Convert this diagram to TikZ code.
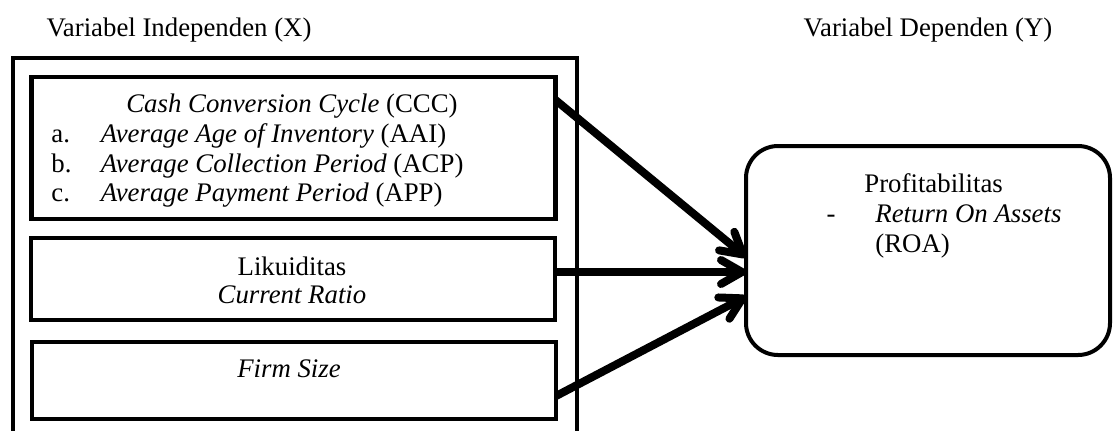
\documentclass[tikz,border=0pt]{standalone}
\usepackage{fontspec}
\setmainfont{Liberation Serif}
\usetikzlibrary{arrows.meta,positioning}

% label column for the lettered ratio lines
\newcommand{\ratioitem}[2]{\makebox[24.75pt][l]{#1}#2}

\begin{document}
\begin{tikzpicture}[
    x=0.5pt, y=-0.5pt,
    font=\fontsize{13.4}{14.5}\selectfont,
    outerframe/.style={draw, line width=2.2pt, inner sep=0pt, outer sep=0pt},
    varbox/.style={outerframe, minimum width=262pt},
    depbox/.style={draw, line width=2pt, rounded corners=16pt, inner sep=0pt, outer sep=0pt,
        minimum width=182pt, minimum height=104.5pt},
    txt/.style={inner sep=0pt, anchor=base},
    arr/.style={-{Straight Barb[length=10.5pt, width=12pt, round]}, line width=4pt,
        preaction={draw=black!30, transform canvas={shift={(0.8pt,-1.2pt)}}}},
]
    \useasboundingbox (0,0) rectangle (1113,430);
    \clip (0,0) rectangle (1113,430);

    % Headings
    \node[txt] (indephead) at (179,36) {Variabel Independen (X)};
    \node[txt] (dephead)   at (928,36) {Variabel Dependen (Y)};

    % Left frame holding the independent variables (runs off the bottom)
    \node[outerframe, minimum width=282pt, minimum height=194pt] (indep) at (295,252) {};

    % Box 1: CCC and its parts
    \node[varbox, minimum height=71pt] (cccbox) at (293.5,148) {};
    \node[txt] (ccc) at (292,112) {\textit{Cash Conversion Cycle} (CCC)};
    \node[txt, anchor=base west] (aai) at (51,142) {\ratioitem{a.}{\textit{Average Age of Inventory} (AAI)}};
    \node[txt, anchor=base west] (acp) at (51,172) {\ratioitem{b.}{\textit{Average Collection Period} (ACP)}};
    \node[txt, anchor=base west] (app) at (51,201) {\ratioitem{c.}{\textit{Average Payment Period} (APP)}};

    % Box 2: liquidity
    \node[varbox, minimum height=41pt] (likbox) at (293,279) {};
    \node[txt] (lik) at (292,275) {Likuiditas};
    \node[txt] (cr)  at (292,303) {\textit{Current Ratio}};

    % Box 3: firm size
    \node[varbox, minimum height=38.5pt] (firmbox) at (294,380.5) {};
    \node[txt] (firm) at (289,377) {\textit{Firm Size}};

    % Dependent variable
    \node[depbox] (profbox) at (928,250.5) {};
    \node[txt, anchor=base west] (prof) at (864,192) {Profitabilitas};
    \node[txt] (dash) at (831,222) {-};
    \node[txt, anchor=base west] (roa) at (875,222) {\textit{Return On Assets}};
    \node[txt, anchor=base west] (roaabbr) at (875,252) {(ROA)};

    % Arrows
    \draw[arr] ([yshift=24pt]cccbox.east) -- ([yshift=-3.25pt]profbox.west);
    \draw[arr] ([yshift=3.5pt]likbox.east) -- ([yshift=-10.75pt]profbox.west);
    \draw[arr] ([yshift=-7.75pt]firmbox.east) -- ([yshift=-23pt]profbox.west);
\end{tikzpicture}
\end{document}
